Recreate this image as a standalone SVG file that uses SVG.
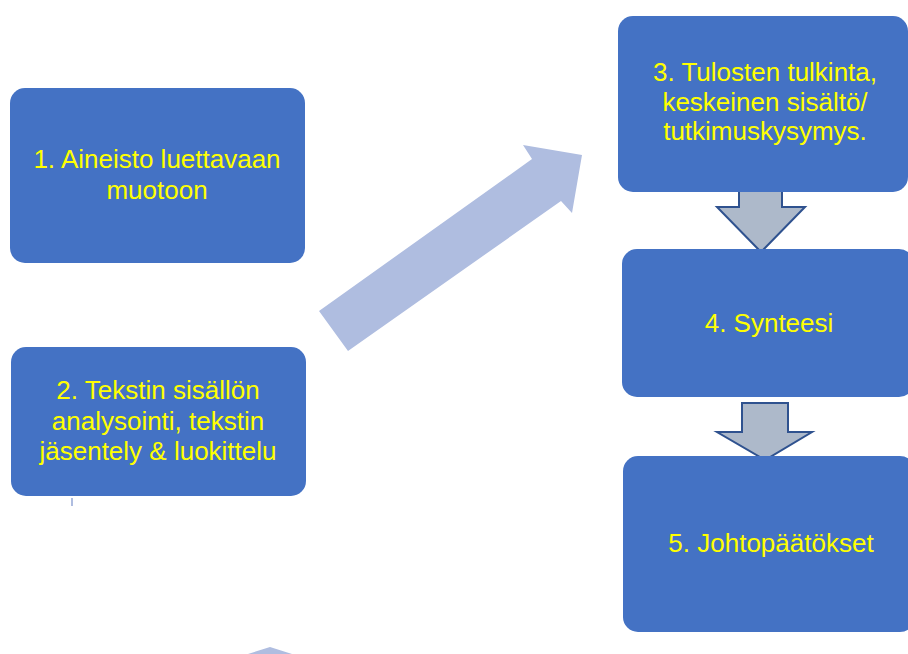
<svg xmlns="http://www.w3.org/2000/svg" width="908" height="654" viewBox="0 0 908 654">
<style>
.box{fill:#4472C4;}
.t{fill:#FFFF00;font-family:"Liberation Sans",Arial,sans-serif;font-size:26px;text-anchor:middle;}
.down{fill:#ADB9CA;stroke:#2F528F;stroke-width:2;stroke-linejoin:miter;}
.big{fill:#AFBDE0;}
</style>
<rect width="908" height="654" fill="#FFFFFF"/>
<g id="connectors">
<polygon class="big" points="319,311 532,159 523,145 582,155 572,213 561,201 348,351"/>
<polygon class="down" points="739,185 782,185 782,207 805,207 761,252 717,207 739,207"/>
<polygon class="down" points="742,403 788,403 788,432 812,432 765,460 717,432 742,432"/>
<line x1="72" y1="498" x2="72" y2="506" stroke="#AFBDE0" stroke-width="2"/>
<polygon class="big" points="248,654 270,647 292,654"/>
</g>
<g id="node1">
<rect class="box" x="10" y="88" width="295" height="175" rx="15"/>
<text class="t" x="157" y="168">1. Aineisto luettavaan</text>
<text class="t" x="157" y="199">muotoon</text>
</g>
<g id="node2">
<rect class="box" x="11" y="347" width="295" height="149" rx="15"/>
<text class="t" x="158" y="399">2. Tekstin sisällön</text>
<text class="t" x="158" y="430">analysointi, tekstin</text>
<text class="t" x="158" y="460">jäsentely &amp; luokittelu</text>
</g>
<g id="node3">
<rect class="box" x="618" y="16" width="290" height="176" rx="15"/>
<text class="t" x="765" y="81">3. Tulosten tulkinta,</text>
<text class="t" x="765" y="111">keskeinen sisältö/</text>
<text class="t" x="765" y="140">tutkimuskysymys.</text>
</g>
<g id="node4">
<rect class="box" x="622" y="249" width="292" height="148" rx="15"/>
<text class="t" x="769" y="332">4. Synteesi</text>
</g>
<g id="node5">
<rect class="box" x="623" y="456" width="292" height="176" rx="15"/>
<text class="t" x="771" y="552">5. Johtopäätökset</text>
</g>
</svg>
